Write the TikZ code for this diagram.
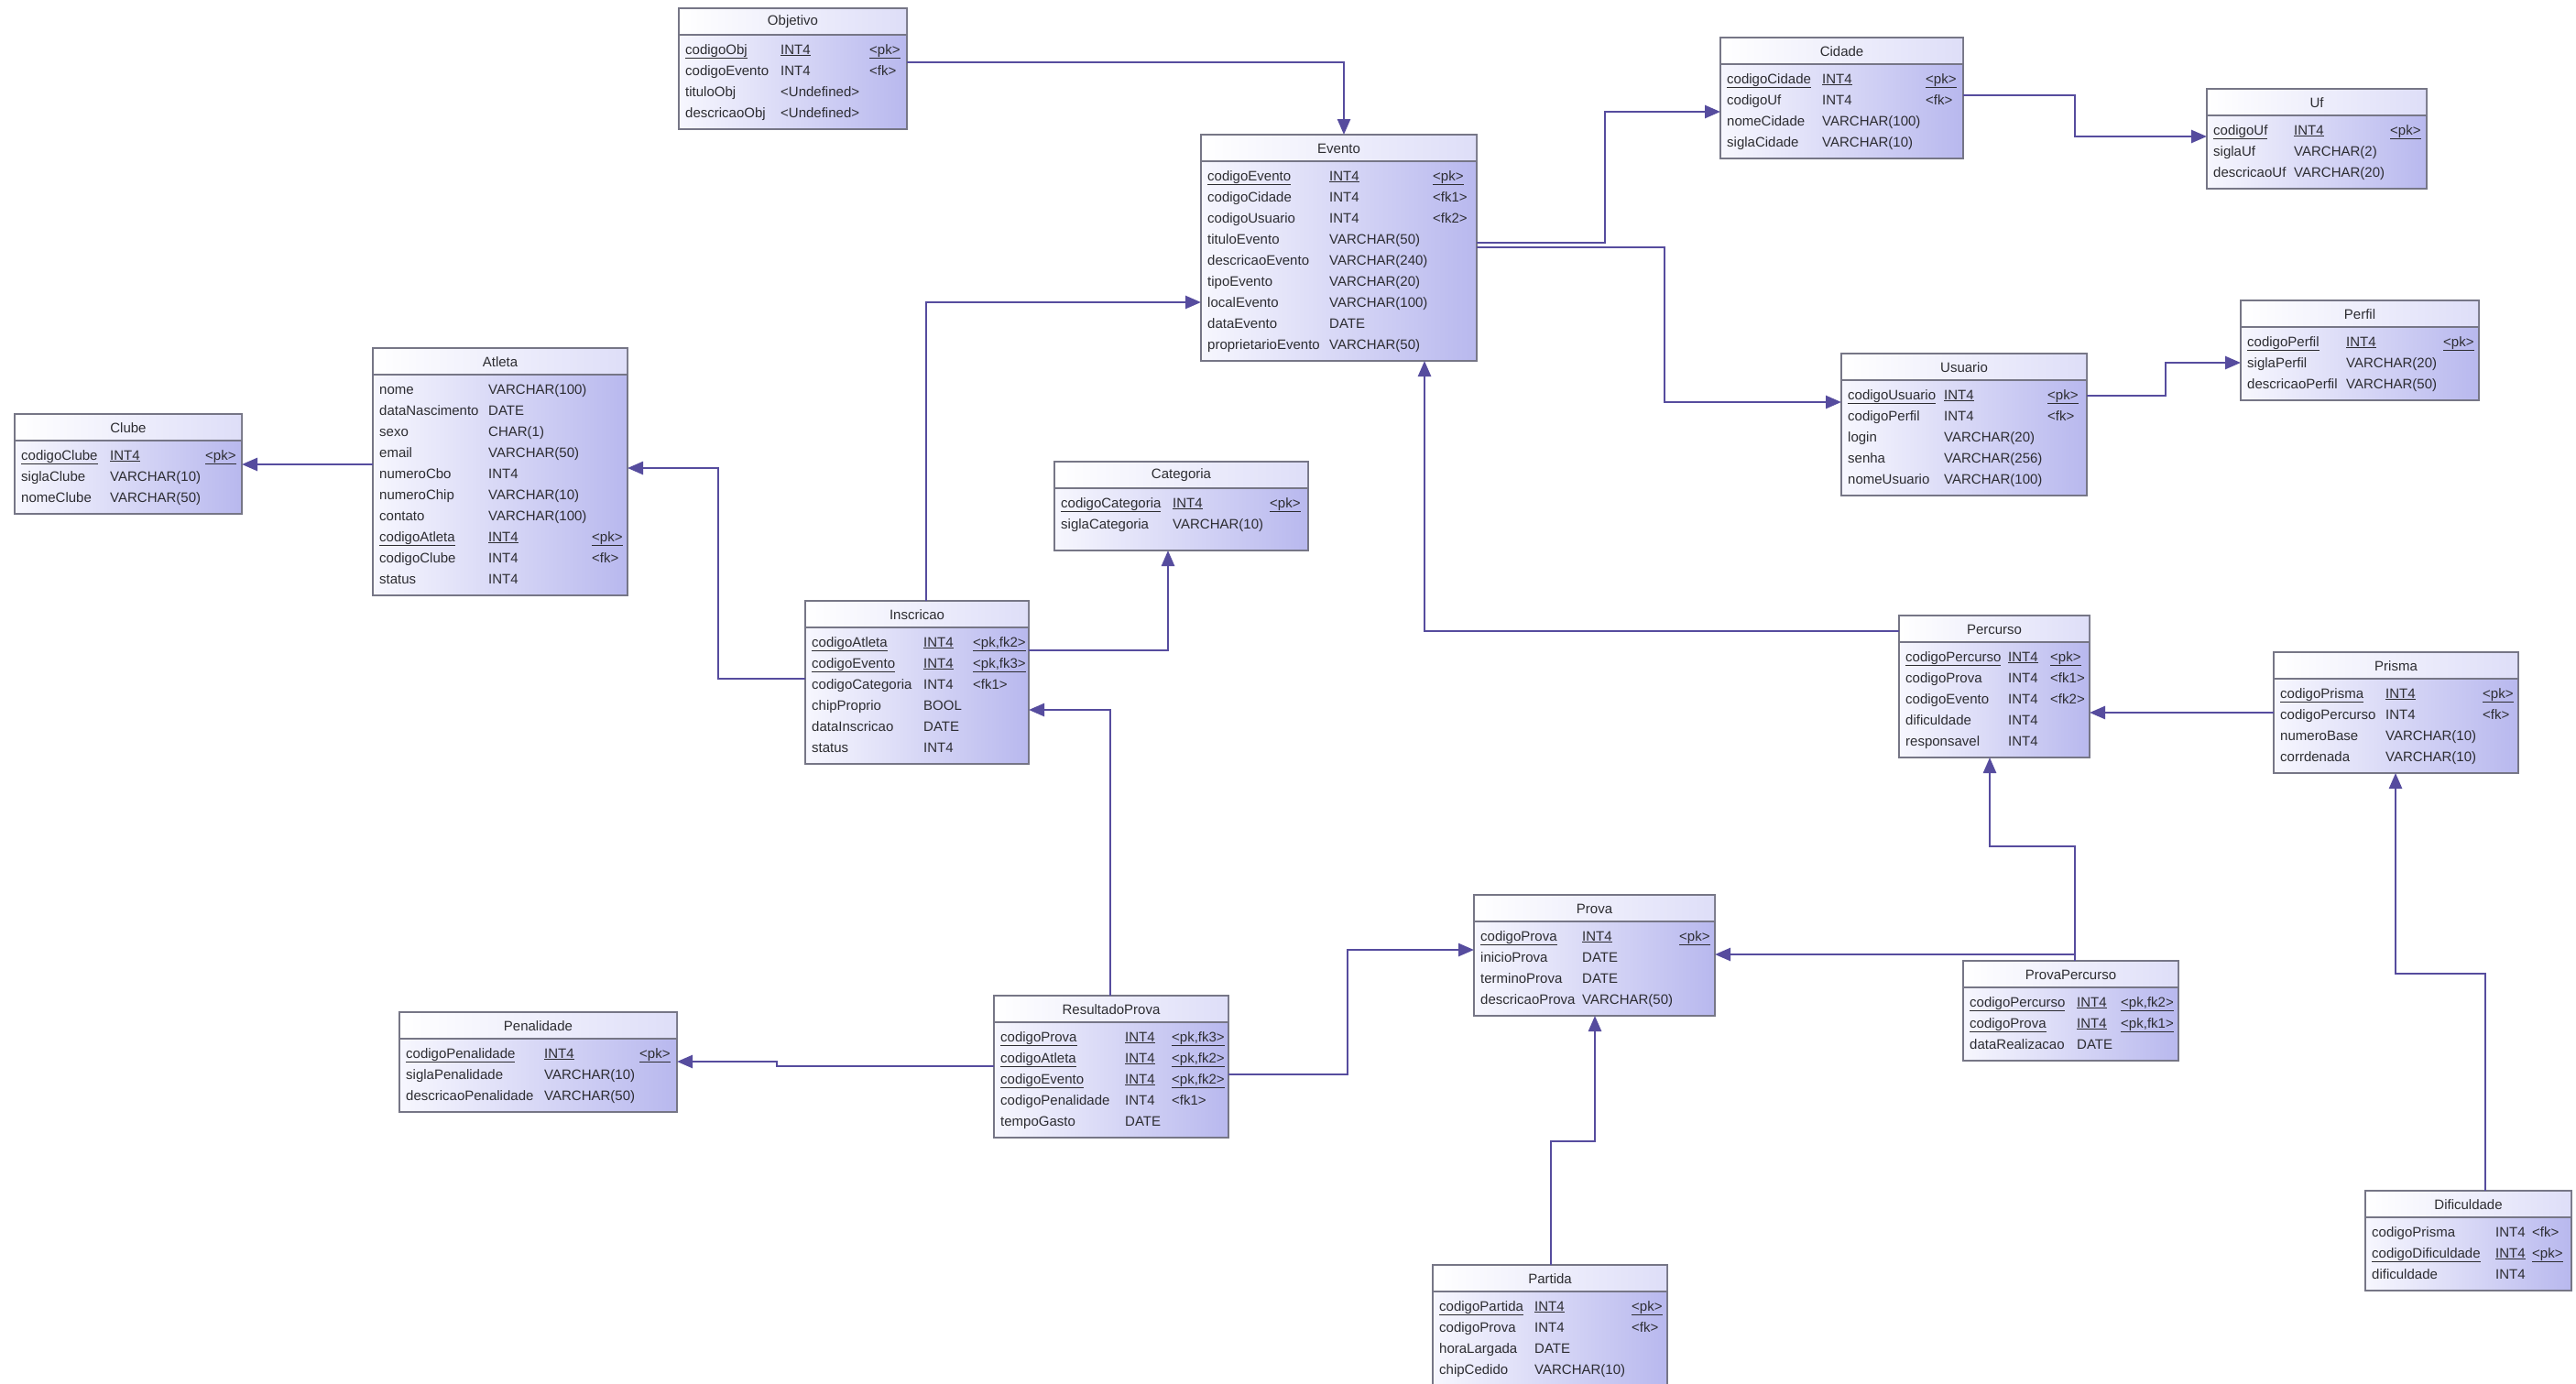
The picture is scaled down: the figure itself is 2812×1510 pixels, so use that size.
\documentclass[tikz,border=0pt]{standalone}
\usepackage{fontspec}
\setmainfont{Liberation Sans}
\usetikzlibrary{arrows.meta}

\definecolor{fkline}{RGB}{86,76,158}
\definecolor{boxedge}{RGB}{118,118,134}
\definecolor{boxlight}{RGB}{247,247,254}
\definecolor{boxdark}{RGB}{184,184,238}
\definecolor{headdark}{RGB}{222,222,248}
\definecolor{fieldtext}{RGB}{45,45,50}

\tikzset{
  table box/.style={draw=boxedge, line width=1.5pt, left color=boxlight, right color=boxdark, inner sep=0pt, outer sep=0pt},
  table head/.style={left color=white, right color=headdark},
  table rule/.style={draw=boxedge, line width=2pt},
  table title/.style={font=\fontsize{15}{18}\selectfont, text=fieldtext, inner sep=0pt},
  field/.style={font=\fontsize{15}{18}\selectfont, text=fieldtext, anchor=west, inner sep=0pt, text height=11pt, text depth=3pt},
  fk/.style={draw=fkline, line width=2.5pt, -{Triangle[length=17pt,width=14pt]}},
}

% #1 name, #2 title, #3 x, #4 y, #5 width, #6 height, #7 type column, #8 key column, #9 fields
\newcommand{\ertable}[9]{%
  \node[table box, minimum width=#5, minimum height=#6, anchor=north west] (#1) at (#3,#4) {};
  \fill[table head] ({#3+1},{#4+1}) rectangle ({#3+#5-1},{#4+29});
  \draw[table rule] (#3,{#4+29}) -- ({#3+#5},{#4+29});
  \node[table title] (#1-title) at ({#3+#5/2},{#4+15}) {#2};
  \foreach \nm/\ty/\ky/\pk [count=\i] in {#9} {
    \node[field] (#1-\i) at ({#3+7},{#4+23+23*\i}) {\if k\pk\underline{\nm}\else\nm\fi};
    \node[field] (#1-\i-type) at ({#3+#7},{#4+23+23*\i}) {\if k\pk\underline{\ty}\else\ty\fi};
    \node[field] (#1-\i-key) at ({#3+#8},{#4+23+23*\i}) {\if k\pk\underline{\ky}\else\ky\fi};
  }%
}

\begin{document}
\begin{tikzpicture}[x=1pt, y=-1pt]
  \fill[white] (0,0) rectangle (2812,1510);
  \useasboundingbox (0,0) rectangle (2812,1510);

  \ertable{objetivo}{Objetivo}{741}{9}{249}{132}{111}{208}{%
    codigoObj/INT4/<pk>/k,
    codigoEvento/INT4/<fk>/-,
    tituloObj/<Undefined>//-,
    descricaoObj/<Undefined>//-%
  }
  \ertable{evento}{Evento}{1311}{147}{301}{247}{140}{253}{%
    codigoEvento/INT4/<pk>/k,
    codigoCidade/INT4/<fk1>/-,
    codigoUsuario/INT4/<fk2>/-,
    tituloEvento/VARCHAR(50)//-,
    descricaoEvento/VARCHAR(240)//-,
    tipoEvento/VARCHAR(20)//-,
    localEvento/VARCHAR(100)//-,
    dataEvento/DATE//-,
    proprietarioEvento/VARCHAR(50)//-%
  }
  \ertable{cidade}{Cidade}{1878}{41}{265}{132}{111}{224}{%
    codigoCidade/INT4/<pk>/k,
    codigoUf/INT4/<fk>/-,
    nomeCidade/VARCHAR(100)//-,
    siglaCidade/VARCHAR(10)//-%
  }
  \ertable{uf}{Uf}{2409}{97}{240}{109}{95}{200}{%
    codigoUf/INT4/<pk>/k,
    siglaUf/VARCHAR(2)//-,
    descricaoUf/VARCHAR(20)//-%
  }
  \ertable{perfil}{Perfil}{2446}{328}{260}{109}{115}{221}{%
    codigoPerfil/INT4/<pk>/k,
    siglaPerfil/VARCHAR(20)//-,
    descricaoPerfil/VARCHAR(50)//-%
  }
  \ertable{usuario}{Usuario}{2010}{386}{268}{155}{112}{225}{%
    codigoUsuario/INT4/<pk>/k,
    codigoPerfil/INT4/<fk>/-,
    login/VARCHAR(20)//-,
    senha/VARCHAR(256)//-,
    nomeUsuario/VARCHAR(100)//-%
  }
  \ertable{atleta}{Atleta}{407}{380}{278}{270}{126}{239}{%
    nome/VARCHAR(100)//-,
    dataNascimento/DATE//-,
    sexo/CHAR(1)//-,
    email/VARCHAR(50)//-,
    numeroCbo/INT4//-,
    numeroChip/VARCHAR(10)//-,
    contato/VARCHAR(100)//-,
    codigoAtleta/INT4/<pk>/k,
    codigoClube/INT4/<fk>/-,
    status/INT4//-%
  }
  \ertable{clube}{Clube}{16}{452}{248}{109}{104}{208}{%
    codigoClube/INT4/<pk>/k,
    siglaClube/VARCHAR(10)//-,
    nomeClube/VARCHAR(50)//-%
  }
  \ertable{categoria}{Categoria}{1151}{504}{277}{97}{129}{235}{%
    codigoCategoria/INT4/<pk>/k,
    siglaCategoria/VARCHAR(10)//-%
  }
  \ertable{inscricao}{Inscricao}{879}{656}{244}{178}{129}{183}{%
    codigoAtleta/INT4/{<pk,fk2>}/k,
    codigoEvento/INT4/{<pk,fk3>}/k,
    codigoCategoria/INT4/<fk1>/-,
    chipProprio/BOOL//-,
    dataInscricao/DATE//-,
    status/INT4//-%
  }
  \ertable{percurso}{Percurso}{2073}{672}{208}{155}{119}{165}{%
    codigoPercurso/INT4/<pk>/k,
    codigoProva/INT4/<fk1>/-,
    codigoEvento/INT4/<fk2>/-,
    dificuldade/INT4//-,
    responsavel/INT4//-%
  }
  \ertable{prisma}{Prisma}{2482}{712}{267}{132}{122}{228}{%
    codigoPrisma/INT4/<pk>/k,
    codigoPercurso/INT4/<fk>/-,
    numeroBase/VARCHAR(10)//-,
    corrdenada/VARCHAR(10)//-%
  }
  \ertable{prova}{Prova}{1609}{977}{263}{132}{118}{224}{%
    codigoProva/INT4/<pk>/k,
    inicioProva/DATE//-,
    terminoProva/DATE//-,
    descricaoProva/VARCHAR(50)//-%
  }
  \ertable{provapercurso}{ProvaPercurso}{2143}{1049}{235}{109}{124}{172}{%
    codigoPercurso/INT4/{<pk,fk2>}/k,
    codigoProva/INT4/{<pk,fk1>}/k,
    dataRealizacao/DATE//-%
  }
  \ertable{penalidade}{Penalidade}{436}{1105}{303}{109}{158}{262}{%
    codigoPenalidade/INT4/<pk>/k,
    siglaPenalidade/VARCHAR(10)//-,
    descricaoPenalidade/VARCHAR(50)//-%
  }
  \ertable{resultadoprova}{ResultadoProva}{1085}{1087}{256}{155}{143}{194}{%
    codigoProva/INT4/{<pk,fk3>}/k,
    codigoAtleta/INT4/{<pk,fk2>}/k,
    codigoEvento/INT4/{<pk,fk2>}/k,
    codigoPenalidade/INT4/<fk1>/-,
    tempoGasto/DATE//-%
  }
  \ertable{partida}{Partida}{1564}{1381}{256}{132}{111}{217}{%
    codigoPartida/INT4/<pk>/k,
    codigoProva/INT4/<fk>/-,
    horaLargada/DATE//-,
    chipCedido/VARCHAR(10)//-%
  }
  \ertable{dificuldade}{Dificuldade}{2582}{1300}{225}{109}{142}{182}{%
    codigoPrisma/INT4/<fk>/-,
    codigoDificuldade/INT4/<pk>/k,
    dificuldade/INT4//-%
  }

  % references
  \draw[fk] ([shift={(0,59)}]objetivo.north east) -| ([shift={(156,0)}]evento.north west);
  \draw[fk] ([shift={(0,118)}]evento.north east) -- ++(140,0) |- ([shift={(0,81)}]cidade.north west);
  \draw[fk] ([shift={(0,123)}]evento.north east) -- ++(205,0) |- ([shift={(0,53)}]usuario.north west);
  \draw[fk] ([shift={(0,63)}]cidade.north east) -- ++(122,0) |- ([shift={(0,52)}]uf.north west);
  \draw[fk] ([shift={(0,46)}]usuario.north east) -- ++(86,0) |- ([shift={(0,68)}]perfil.north west);
  \draw[fk] ([shift={(0,127)}]atleta.north west) -- ([shift={(0,55)}]clube.north east);
  \draw[fk] ([shift={(0,85)}]inscricao.north west) -- ++(-95,0) |- ([shift={(0,131)}]atleta.north east);
  \draw[fk] ([shift={(132,0)}]inscricao.north west) |- ([shift={(0,183)}]evento.north west);
  \draw[fk] ([shift={(0,54)}]inscricao.north east) -| ([shift={(124,0)}]categoria.south west);
  \draw[fk] ([shift={(127,0)}]resultadoprova.north west) |- ([shift={(0,119)}]inscricao.north east);
  \draw[fk] ([shift={(0,77)}]resultadoprova.north west) -- ++(-237,0) -- ++(0,-5) -- ([shift={(0,54)}]penalidade.north east);
  \draw[fk] ([shift={(0,86)}]resultadoprova.north east) -- ++(130,0) |- ([shift={(0,60)}]prova.north west);
  \draw[fk] ([shift={(0,17)}]percurso.north west) -| ([shift={(244,0)}]evento.south west);
  \draw[fk] ([shift={(0,66)}]prisma.north west) -- ([shift={(0,106)}]percurso.north east);
  \draw[fk] ([shift={(122,0)}]provapercurso.north west) -- ++(0,-125) -| ([shift={(99,0)}]percurso.south west);
  \draw[fk] ([shift={(122,0)}]provapercurso.north west) |- ([shift={(0,65)}]prova.north east);
  \draw[fk] ([shift={(131,0)}]dificuldade.north west) -- ++(0,-237) -| ([shift={(133,0)}]prisma.south west);
  \draw[fk] ([shift={(129,0)}]partida.north west) -- ++(0,-135) -| ([shift={(132,0)}]prova.south west);
\end{tikzpicture}
\end{document}
